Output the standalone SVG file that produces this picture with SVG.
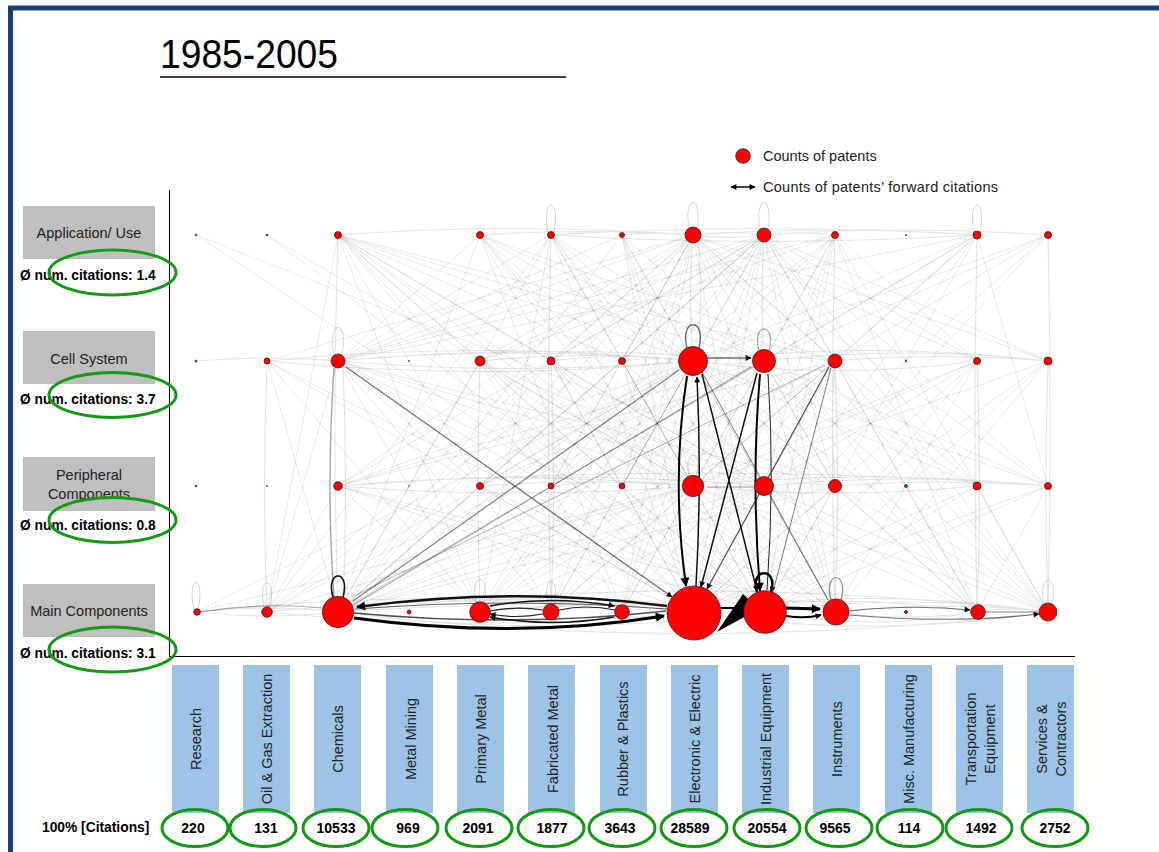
<svg xmlns="http://www.w3.org/2000/svg" width="1159" height="852" viewBox="0 0 1159 852">
<defs>
<style>
.f{fill:none;stroke:#000;stroke-opacity:.085;stroke-width:1}
.a{fill:none;stroke:#000;stroke-opacity:.1;stroke-width:1.2}
.lp{fill:none;stroke:#000;stroke-opacity:.16;stroke-width:1}
.n{fill:#ff0000;stroke:#4a1a1a;stroke-width:.8}
.t{fill:#555;stroke:none}
.lbl{font-family:"Liberation Sans",Arial,sans-serif;font-size:14.5px;fill:#222}
.cat{font-family:"Liberation Sans",Arial,sans-serif;font-size:14.5px;fill:#222;text-anchor:middle}
.cnt{font-family:"Liberation Sans",Arial,sans-serif;font-weight:bold;font-size:14px;fill:#000;text-anchor:middle}
.avg{font-family:"Liberation Sans",Arial,sans-serif;font-weight:bold;font-size:13.8px;fill:#000}
.g{fill:none;stroke:#139a13;stroke-width:3}
.bar{fill:#9dc3e6}
.box{fill:#bfbfbf}
</style>
<marker id="ah" viewBox="0 0 10 10" refX="9" refY="5" markerWidth="10" markerHeight="9" markerUnits="userSpaceOnUse" orient="auto"><path d="M0,0 L10,5 L0,10 z" fill="#000"/></marker>
<marker id="ahs" viewBox="0 0 10 10" refX="9" refY="5" markerWidth="7" markerHeight="6" markerUnits="userSpaceOnUse" orient="auto"><path d="M0,0 L10,5 L0,10 z" fill="#111"/></marker>
<marker id="lg" viewBox="0 0 10 10" refX="9" refY="5" markerWidth="7" markerHeight="6" markerUnits="userSpaceOnUse" orient="auto-start-reverse"><path d="M0,0 L10,5 L0,10 z" fill="#000"/></marker>
<clipPath id="net"><rect x="170" y="190" width="887" height="466"/></clipPath>
</defs>
<rect width="1159" height="852" fill="#fff"/>
<path d="M10.5 852 V8 H1159" fill="none" stroke="#1f3c78" stroke-width="5"/>

<g id="title">
<text x="160" y="68" font-family="'Liberation Sans',Arial,sans-serif" font-size="40" textLength="178" lengthAdjust="spacingAndGlyphs" fill="#000">1985-2005</text>
<line x1="160" y1="77" x2="566" y2="77" stroke="#000" stroke-width="1.5"/>
</g>

<g id="legend">
<circle cx="743" cy="156" r="7.3" class="n"/>
<text x="763" y="161" class="lbl" fill="#000">Counts of patents</text>
<line x1="731" y1="187" x2="755" y2="187" stroke="#000" stroke-width="1.5" marker-start="url(#lg)" marker-end="url(#lg)"/>
<text x="763" y="192" class="lbl" textLength="235">Counts of patents’ forward citations</text>
</g>

<g id="axes">
<line x1="169.5" y1="190" x2="169.5" y2="656" stroke="#000" stroke-width="1"/>
<line x1="169" y1="656.5" x2="1075" y2="656.5" stroke="#000" stroke-width="1.2"/>
</g>

<g clip-path="url(#net)">
<g id="connectors">
<path class="f" d="M693 235L338 361M693 235L480 361M693 235L551 361M693 235L622 361M693 235L835 361M693 235L977 361M693 235L1048 361M693 235L267 361M693 235L338 486M693 235L480 486M693 235L551 486M693 235L622 486M693 235L835 486M693 235L977 486M693 235L1048 486M693 235L267 612M693 235L338 612M693 235L480 612M693 235L551 612M693 235L622 612M693 235L764 612M693 235L835 612M693 235L977 612M693 235L1048 612"/>
<path class="f" d="M764 235L338 361M764 235L480 361M764 235L551 361M764 235L622 361M764 235L835 361M764 235L977 361M764 235L1048 361M764 235L338 486M764 235L480 486M764 235L551 486M764 235L622 486M764 235L693 486M764 235L835 486M764 235L977 486M764 235L1048 486M764 235L267 612M764 235L338 612M764 235L480 612M764 235L551 612M764 235L622 612M764 235L693 612M764 235L835 612M764 235L977 612M764 235L1048 612"/>
<path class="f" d="M338 235L480 361M338 235L551 361M338 235L622 361M338 235L693 361M338 235L764 361M338 235L835 361M338 235L551 486M338 235L693 486M338 235L764 486M338 235L480 612M338 235L551 612M338 235L693 612M338 235L764 612M338 235L835 612M338 235L267 612M480 235L338 361M480 235L693 361M480 235L764 361M480 235L835 361M480 235L693 486M480 235L764 486M480 235L338 612M480 235L693 612M480 235L764 612M480 235L835 612M480 235L622 612"/>
<path class="f" d="M551 235L338 361M551 235L693 361M551 235L764 361M551 235L693 486M551 235L764 486M551 235L338 612M551 235L693 612M551 235L764 612M551 235L835 612M551 235L267 612M551 235L480 612M622 235L693 361M622 235L764 361M622 235L693 612M622 235L764 612M622 235L338 612M622 235L693 486M622 235L338 361M622 235L835 612"/>
<path class="f" d="M835 235L693 361M835 235L764 361M835 235L480 361M835 235L338 361M835 235L693 486M835 235L764 486M835 235L693 612M835 235L764 612M835 235L338 612M835 235L480 612M835 235L977 612M835 235L1048 612M835 235L977 361M977 235L693 361M977 235L764 361M977 235L338 361M977 235L693 612M977 235L764 612M977 235L338 612M977 235L693 486M977 235L835 361M977 235L1048 486M1048 235L693 361M1048 235L764 361M1048 235L693 612M1048 235L764 486M1048 235L835 361M196 235L835 486M196 235L764 612M267 235L764 612M267 235L693 486"/>
<path class="f" d="M693 361L338 612M693 361L267 612M693 361L480 612M693 361L551 612M693 361L622 612M693 361L835 612M693 361L977 612M693 361L1048 612M693 361L338 486M693 361L480 486M693 361L551 486M693 361L622 486M693 361L835 486M693 361L977 486M693 361L1048 486M693 361L196 612"/>
<path class="f" d="M764 361L338 612M764 361L267 612M764 361L480 612M764 361L551 612M764 361L622 612M764 361L835 612M764 361L977 612M764 361L1048 612M764 361L338 486M764 361L480 486M764 361L551 486M764 361L835 486M764 361L977 486M764 361L1048 486"/>
<path class="f" d="M338 361L480 612M338 361L551 612M338 361L622 612M338 361L764 612M338 361L835 612M338 361L693 486M338 361L764 486M338 361L835 486M338 361L267 612M835 361L338 612M835 361L480 612M835 361L551 612M835 361L622 612M835 361L977 612M835 361L1048 612M835 361L693 486M835 361L764 486M835 361L338 486"/>
<path class="f" d="M480 361L338 612M480 361L693 612M480 361L764 612M480 361L835 612M480 361L693 486M480 361L764 486M480 361L622 612M551 361L338 612M551 361L693 612M551 361L764 612M551 361L693 486M551 361L764 486M622 361L693 612M622 361L764 612M622 361L338 612M622 361L693 486M267 361L338 612M267 361L693 612M267 361L480 612M267 361L764 612"/>
<path class="f" d="M977 361L693 612M977 361L764 612M977 361L835 612M977 361L693 486M977 361L764 486M977 361L338 612M1048 361L693 612M1048 361L764 612M1048 361L835 612M1048 361L693 486"/>
<path class="f" d="M693 486L338 612M693 486L267 612M693 486L480 612M693 486L551 612M693 486L622 612M693 486L835 612M693 486L977 612M693 486L1048 612M693 486L196 612M764 486L338 612M764 486L480 612M764 486L551 612M764 486L622 612M764 486L835 612M764 486L977 612M764 486L1048 612"/>
<path class="f" d="M338 486L693 612M338 486L764 612M338 486L835 612M338 486L480 612M338 486L267 612M835 486L693 612M835 486L764 612M835 486L338 612M835 486L977 612M835 486L1048 612M977 486L693 612M977 486L764 612M977 486L1048 612M1048 486L693 612M1048 486L764 612M1048 486L977 612M480 486L693 612M480 486L764 612M480 486L338 612"/>
<path class="a" d="M196 612Q445 585 693 612M267 612Q480 590 693 612M267 612Q480 634 693 612M338 612Q551 585 764 612M338 612Q551 640 764 612M480 612Q586 598 693 612M480 612Q622 598 764 612M551 612Q622 602 693 612M693 612Q870 585 1048 612M693 612Q870 640 1048 612M693 612Q835 590 977 612M764 612Q906 592 1048 612M764 612Q870 632 977 612M835 612Q941 600 1048 612M338 612Q693 570 1048 612M338 612Q693 655 1048 612M196 612Q267 604 338 612M196 612Q267 620 338 612M267 612Q303 606 338 612M338 612Q586 595 835 612M835 612Q906 622 977 612M977 612Q1012 606 1048 612"/>
<path class="a" d="M338 361Q515 345 693 361M338 361Q515 376 693 361M338 361Q551 342 764 361M480 361Q586 350 693 361M693 361Q728 367 764 361M764 361Q800 355 835 361M693 361Q870 340 1048 361M764 361Q906 345 1048 361M267 361Q480 340 693 361M267 361Q480 382 693 361M835 361Q941 352 1048 361M622 361Q658 356 693 361M551 361Q622 352 693 361M196 361Q267 355 338 361M267 361Q303 357 338 361M693 361Q835 380 977 361"/>
<path class="a" d="M338 486Q515 470 693 486M338 486Q515 500 693 486M338 486Q551 468 764 486M480 486Q586 478 693 486M693 486Q728 481 764 486M764 486Q800 481 835 486M693 486Q870 468 1048 486M693 486Q835 500 977 486M764 486Q906 472 1048 486M551 486Q622 478 693 486M835 486Q941 478 1048 486M338 486Q693 460 1048 486"/>
<path class="a" d="M551 235Q764 222 977 235M551 235Q764 248 977 235M693 235Q728 230 764 235M693 235Q728 240 764 235M338 235Q515 222 693 235M693 235Q835 225 977 235M764 235Q906 225 1048 235M480 235Q586 228 693 235M764 235Q800 231 835 235M622 235Q658 231 693 235M551 235Q622 228 693 235"/>
<path class="a" d="M338 235Q332 420 338 612M343 361Q348 490 343 612M267 361Q262 490 267 612M693 235Q688 300 693 361M698 235Q703 300 698 361M764 235Q760 300 764 361M835 235Q830 420 835 612M835 361Q840 490 835 612M977 235Q973 420 977 612M1048 235Q1052 420 1048 612M835 361Q830 420 835 486M977 361Q982 490 977 612M1048 361Q1044 490 1048 612M480 361Q476 490 480 612M551 235Q546 420 551 612M551 361Q556 490 551 612"/>
<path class="lp" d="M548 232C541 196 561 196 554 232M689 228C683 194 703 194 697 228M760 229C754 194 774 194 768 229M974 232C967 196 987 196 980 232M334 355C327 318 349 318 342 355M689 476C683 448 703 448 697 476M194 610C186 573 206 573 198 610M264 607C257 575 277 575 270 607M476 602C469 572 491 572 484 602M548 604C541 574 561 574 554 604M1044 604C1037 572 1059 572 1052 604"/>
<path d="M759 350C751 322 777 322 769 350" fill="none" stroke="#000" stroke-opacity=".35" stroke-width="1.2"/>
<path d="M831 600C823 570 849 570 841 600" fill="none" stroke="#000" stroke-opacity=".45" stroke-width="1.2"/>
<path d="M687 348C679 317 707 317 699 348" fill="none" stroke="#000" stroke-opacity=".6" stroke-width="1.3"/>
<path d="M333 597C325 569 351 569 343 597" fill="none" stroke="#111" stroke-width="1.6"/>
<path d="M334 368Q326 490 334 596" fill="none" stroke="#000" stroke-opacity=".35" stroke-width="1.4"/>
<path d="M346 367L672 597" fill="none" stroke="#000" stroke-opacity=".55" stroke-width="1.3" marker-end="url(#ahs)"/>
<path d="M353 601L679 370" fill="none" stroke="#000" stroke-opacity=".45" stroke-width="1.2"/>
<path d="M353 605L751 367" fill="none" stroke="#000" stroke-opacity=".35" stroke-width="1.1"/>
<path d="M352 597L825 365" fill="none" stroke="#000" stroke-opacity=".3" stroke-width="1"/>
<path d="M702 372L828 600" fill="none" stroke="#000" stroke-opacity=".45" stroke-width="1.1"/>
<path d="M829 367L707 589" fill="none" stroke="#222" stroke-opacity=".8" stroke-width="1.2" marker-end="url(#ahs)"/>
<path d="M831 368L773 592" fill="none" stroke="#333" stroke-opacity=".65" stroke-width="1"/>
<path d="M687 376Q671 480 686 586" fill="none" stroke="#000" stroke-width="2" marker-end="url(#ah)"/>
<path d="M696 586Q702 480 697 377" fill="none" stroke="#111" stroke-width="1.5" marker-end="url(#ahs)"/>
<path d="M702 374L757 591" fill="none" stroke="#111" stroke-width="1.5" marker-end="url(#ahs)"/>
<path d="M757 373L701 587" fill="none" stroke="#111" stroke-width="1.5" marker-end="url(#ahs)"/>
<path d="M760 374Q751 480 760 591" fill="none" stroke="#000" stroke-width="2" marker-end="url(#ah)"/>
<path d="M768 374Q775 480 767 590" fill="none" stroke="#222" stroke-width="1"/>
<path d="M707 358L751 358" fill="none" stroke="#333" stroke-width="1" marker-end="url(#ahs)"/>
<path d="M707 487L754 487" fill="none" stroke="#000" stroke-opacity=".4" stroke-width="1"/>
<path d="M667 606Q515 586 357 607" fill="none" stroke="#111" stroke-width="2.5" marker-end="url(#ah)"/>
<path d="M354 618Q515 640 664 616" fill="none" stroke="#000" stroke-width="3" marker-end="url(#ah)"/>
<path d="M354 613Q515 628 666 611" fill="none" stroke="#222" stroke-opacity=".8" stroke-width="1.5"/>
<path d="M355 609Q515 597 667 609" fill="none" stroke="#222" stroke-opacity=".7" stroke-width="1.2"/>
<path d="M490 606Q551 595 614 606" fill="none" stroke="#111" stroke-width="1.5" marker-end="url(#ahs)"/>
<path d="M614 617Q551 628 490 617" fill="none" stroke="#111" stroke-width="1.5" marker-end="url(#ahs)"/>
<path d="M490 611Q515 606 543 610" fill="none" stroke="#222" stroke-width="1.2"/>
<path d="M543 614Q515 619 490 614" fill="none" stroke="#222" stroke-width="1.2" marker-end="url(#ahs)"/>
<path d="M559 610Q586 604 615 610" fill="none" stroke="#222" stroke-width="1.1"/>
<path d="M199 612Q267 602 322 608" fill="none" stroke="#000" stroke-opacity=".3" stroke-width="1.2"/>
<path d="M786 608L820 609" fill="none" stroke="#000" stroke-width="3" marker-end="url(#ah)"/>
<path d="M786 616Q805 619 821 615" fill="none" stroke="#000" stroke-width="2" marker-end="url(#ahs)"/>
<path d="M849 611Q913 604 970 610" fill="none" stroke="#000" stroke-opacity=".55" stroke-width="1.2" marker-end="url(#ahs)"/>
<path d="M849 615Q950 624 1039 614" fill="none" stroke="#000" stroke-opacity=".55" stroke-width="1.2" marker-end="url(#ahs)"/>
<path d="M985 612L1038 612" fill="none" stroke="#000" stroke-opacity=".5" stroke-width="1"/>
<path d="M721 608L743 608" fill="none" stroke="#000" stroke-width="2"/>
<polygon points="717,632 743,594 749,600 746,616" fill="#000"/>
<path d="M757 592C749 567 779 567 771 592" fill="none" stroke="#000" stroke-width="2.5" marker-end="url(#ahs)"/>
</g>

<g id="nodes">
<g id="app-research"><circle cx="196" cy="235" r="1.3" class="t"/></g>
<g id="app-oilgas"><circle cx="267" cy="235" r="1.3" class="t"/></g>
<g id="app-chemicals"><circle cx="338" cy="235" r="3.5" class="n"/></g>
<g id="app-primary"><circle cx="480" cy="235" r="3.5" class="n"/></g>
<g id="app-fabricated"><circle cx="551" cy="235" r="3.5" class="n"/></g>
<g id="app-rubber"><circle cx="622" cy="235" r="2.5" class="n"/></g>
<g id="app-electronic"><circle cx="693" cy="235" r="8" class="n"/></g>
<g id="app-industrial"><circle cx="764" cy="235" r="7" class="n"/></g>
<g id="app-instruments"><circle cx="835" cy="235" r="3.5" class="n"/></g>
<g id="app-misc"><circle cx="906" cy="235" r="1" class="t"/></g>
<g id="app-transport"><circle cx="977" cy="235" r="4" class="n"/></g>
<g id="app-services"><circle cx="1048" cy="235" r="3.5" class="n"/></g>

<g id="cell-research"><circle cx="196" cy="361" r="1.5" class="t"/></g>
<g id="cell-oilgas"><circle cx="267" cy="361" r="3" class="n"/></g>
<g id="cell-chemicals"><circle cx="338" cy="361" r="7" class="n"/></g>
<g id="cell-metal"><circle cx="409" cy="361" r="1" class="t"/></g>
<g id="cell-primary"><circle cx="480" cy="361" r="5" class="n"/></g>
<g id="cell-fabricated"><circle cx="551" cy="361" r="4" class="n"/></g>
<g id="cell-rubber"><circle cx="622" cy="361" r="3.5" class="n"/></g>
<g id="cell-electronic"><circle cx="693" cy="361" r="14.5" class="n"/></g>
<g id="cell-industrial"><circle cx="764" cy="361" r="11.5" class="n"/></g>
<g id="cell-instruments"><circle cx="835" cy="361" r="7" class="n"/></g>
<g id="cell-misc"><circle cx="906" cy="361" r="1.2" class="t"/></g>
<g id="cell-transport"><circle cx="977" cy="361" r="3.5" class="n"/></g>
<g id="cell-services"><circle cx="1048" cy="361" r="4" class="n"/></g>

<g id="per-research"><circle cx="196" cy="486" r="1.3" class="t"/></g>
<g id="per-oilgas"><circle cx="267" cy="486" r="1" class="t"/></g>
<g id="per-chemicals"><circle cx="338" cy="486" r="4.3" class="n"/></g>
<g id="per-metal"><circle cx="409" cy="486" r="0.8" class="t"/></g>
<g id="per-primary"><circle cx="480" cy="486" r="3.5" class="n"/></g>
<g id="per-fabricated"><circle cx="551" cy="486" r="3" class="n"/></g>
<g id="per-rubber"><circle cx="622" cy="486" r="3" class="n"/></g>
<g id="per-electronic"><circle cx="693" cy="486" r="10.7" class="n"/></g>
<g id="per-industrial"><circle cx="764" cy="486" r="9.5" class="n"/></g>
<g id="per-instruments"><circle cx="835" cy="486" r="6.5" class="n"/></g>
<g id="per-misc"><circle cx="906" cy="486" r="1.5" class="n"/></g>
<g id="per-transport"><circle cx="977" cy="486" r="4" class="n"/></g>
<g id="per-services"><circle cx="1048" cy="486" r="3.5" class="n"/></g>

<g id="main-research"><circle cx="197" cy="612" r="3.3" class="n"/></g>
<g id="main-oilgas"><circle cx="267" cy="612" r="5.3" class="n"/></g>
<g id="main-chemicals"><circle cx="338" cy="612" r="15.7" class="n"/></g>
<g id="main-metal"><circle cx="409" cy="612" r="2" class="n"/></g>
<g id="main-primary"><circle cx="480" cy="612" r="10.3" class="n"/></g>
<g id="main-fabricated"><circle cx="551" cy="612" r="8" class="n"/></g>
<g id="main-rubber"><circle cx="622" cy="612" r="7.3" class="n"/></g>
<g id="main-electronic"><circle cx="694" cy="613" r="27" class="n"/></g>
<g id="main-industrial"><circle cx="765" cy="612" r="21.3" class="n"/></g>
<g id="main-instruments"><circle cx="836" cy="612" r="13" class="n"/></g>
<g id="main-misc"><circle cx="906" cy="612" r="1.5" class="n"/></g>
<g id="main-transport"><circle cx="978" cy="612" r="7.3" class="n"/></g>
<g id="main-services"><circle cx="1048" cy="612" r="9" class="n"/></g>
</g>
</g>

<g id="level-application">
<rect x="23" y="206" width="132" height="53" class="box"/>
<text x="89" y="238" class="cat">Application/ Use</text>
<text x="20" y="280" class="avg">Ø num. citations: 1.4</text>
<ellipse cx="112.5" cy="272.5" rx="63.5" ry="22.5" class="g"/>
</g>
<g id="level-cell">
<rect x="23" y="331" width="132" height="53" class="box"/>
<text x="89" y="364" class="cat">Cell System</text>
<text x="20" y="404" class="avg">Ø num. citations: 3.7</text>
<ellipse cx="112.5" cy="395" rx="63.5" ry="22.5" class="g"/>
</g>
<g id="level-peripheral">
<rect x="23" y="457" width="132" height="54" class="box"/>
<text x="89" y="480" class="cat">Peripheral</text>
<text x="89" y="499" class="cat">Components</text>
<text x="20" y="530" class="avg">Ø num. citations: 0.8</text>
<ellipse cx="112.5" cy="520" rx="63.5" ry="22.5" class="g"/>
</g>
<g id="level-main">
<rect x="23" y="584" width="132" height="53" class="box"/>
<text x="89" y="616" class="cat">Main Components</text>
<text x="20" y="658" class="avg">Ø num. citations: 3.1</text>
<ellipse cx="112.5" cy="649.5" rx="63.5" ry="22.5" class="g"/>
</g>

<text x="42" y="832" class="avg" font-size="13.5">100% [Citations]</text>

<g id="cat-research"><rect x="172" y="665" width="47" height="148" class="bar"/><text class="cat" transform="translate(200.5,739) rotate(-90)">Research</text><ellipse cx="195" cy="828" rx="33" ry="18.5" class="g"/><text x="193" y="833" class="cnt">220</text></g>
<g id="cat-oilgas"><rect x="243" y="665" width="47" height="148" class="bar"/><text class="cat" transform="translate(271.5,739) rotate(-90)">Oil &amp; Gas Extraction</text><ellipse cx="263" cy="828" rx="33" ry="18.5" class="g"/><text x="266" y="833" class="cnt">131</text></g>
<g id="cat-chemicals"><rect x="314" y="665" width="47" height="148" class="bar"/><text class="cat" transform="translate(342.5,739) rotate(-90)">Chemicals</text><ellipse cx="336" cy="828" rx="33" ry="18.5" class="g"/><text x="336" y="833" class="cnt">10533</text></g>
<g id="cat-metalmining"><rect x="386" y="665" width="47" height="148" class="bar"/><text class="cat" transform="translate(415.5,739) rotate(-90)">Metal Mining</text><ellipse cx="405" cy="828" rx="33" ry="18.5" class="g"/><text x="408" y="833" class="cnt">969</text></g>
<g id="cat-primary"><rect x="457" y="665" width="47" height="148" class="bar"/><text class="cat" transform="translate(485.5,739) rotate(-90)">Primary Metal</text><ellipse cx="479" cy="828" rx="33" ry="18.5" class="g"/><text x="478" y="833" class="cnt">2091</text></g>
<g id="cat-fabricated"><rect x="528" y="665" width="47" height="148" class="bar"/><text class="cat" transform="translate(557.5,739) rotate(-90)">Fabricated Metal</text><ellipse cx="551" cy="828" rx="33" ry="18.5" class="g"/><text x="552" y="833" class="cnt">1877</text></g>
<g id="cat-rubber"><rect x="600" y="665" width="47" height="148" class="bar"/><text class="cat" transform="translate(627.5,739) rotate(-90)">Rubber &amp; Plastics</text><ellipse cx="622" cy="828" rx="33" ry="18.5" class="g"/><text x="620" y="833" class="cnt">3643</text></g>
<g id="cat-electronic"><rect x="671" y="665" width="47" height="148" class="bar"/><text class="cat" transform="translate(699.5,739) rotate(-90)">Electronic &amp; Electric</text><ellipse cx="694" cy="828" rx="33" ry="18.5" class="g"/><text x="690" y="833" class="cnt">28589</text></g>
<g id="cat-industrial"><rect x="742" y="665" width="47" height="148" class="bar"/><text class="cat" transform="translate(770.5,739) rotate(-90)">Industrial Equipment</text><ellipse cx="767" cy="828" rx="33" ry="18.5" class="g"/><text x="767" y="833" class="cnt">20554</text></g>
<g id="cat-instruments"><rect x="813" y="665" width="47" height="148" class="bar"/><text class="cat" transform="translate(841.5,739) rotate(-90)">Instruments</text><ellipse cx="839" cy="828" rx="33" ry="18.5" class="g"/><text x="835" y="833" class="cnt">9565</text></g>
<g id="cat-misc"><rect x="885" y="665" width="47" height="148" class="bar"/><text class="cat" transform="translate(913.5,739) rotate(-90)">Misc. Manufacturing</text><ellipse cx="910" cy="828" rx="33" ry="18.5" class="g"/><text x="909" y="833" class="cnt">114</text></g>
<g id="cat-transport"><rect x="956" y="665" width="47" height="148" class="bar"/><text class="cat" transform="translate(975.5,739) rotate(-90)">Transportation</text><text class="cat" transform="translate(994.5,739) rotate(-90)">Equipment</text><ellipse cx="979" cy="828" rx="33" ry="18.5" class="g"/><text x="981" y="833" class="cnt">1492</text></g>
<g id="cat-services"><rect x="1027" y="665" width="47" height="148" class="bar"/><text class="cat" transform="translate(1046.5,739) rotate(-90)">Services &amp;</text><text class="cat" transform="translate(1065.5,739) rotate(-90)">Contractors</text><ellipse cx="1055" cy="828" rx="33" ry="18.5" class="g"/><text x="1055" y="833" class="cnt">2752</text></g>
</svg>
